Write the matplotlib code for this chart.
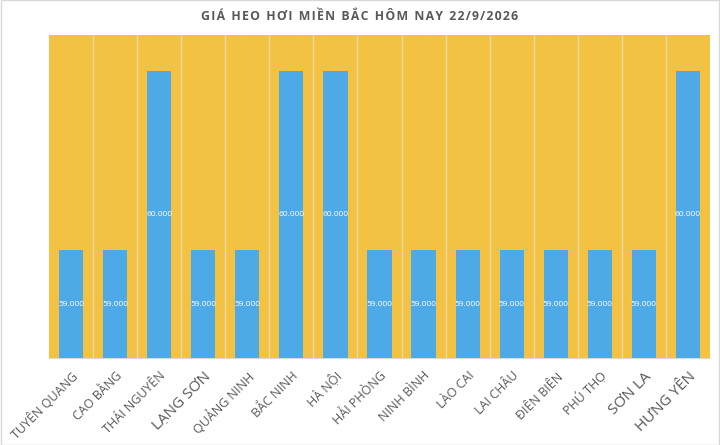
import matplotlib.pyplot as plt
from matplotlib.patches import Rectangle

provinces = ["TUYÊN QUANG", "CAO BẰNG", "THÁI NGUYÊN", "LẠNG SƠN", "QUẢNG NINH",
             "BẮC NINH", "HÀ NỘI", "HẢI PHÒNG", "NINH BÌNH", "LÀO CAI",
             "LAI CHÂU", "ĐIỆN BIÊN", "PHÚ THỌ", "SƠN LA", "HƯNG YÊN"]
prices = [59000, 59000, 60000, 59000, 59000,
          60000, 60000, 59000, 59000, 59000,
          59000, 59000, 59000, 59000, 60000]
price_labels = ["59.000", "59.000", "60.000", "59.000", "59.000",
                "60.000", "60.000", "59.000", "59.000", "59.000",
                "59.000", "59.000", "59.000", "59.000", "60.000"]
big_labels = ["LẠNG SƠN", "SƠN LA", "HƯNG YÊN"]
title = "GIÁ HEO HƠI MIỀN BẮC HÔM NAY 22/9/2026"

plt.rcParams['font.family'] = ['Open Sans', 'DejaVu Sans']

fig = plt.figure(figsize=(7.2, 4.45), dpi=100)
ax = fig.add_axes([49/720, 1 - 358/445, 661/720, 323/445])
ax.set_facecolor('#F4C243')

ymin, ymax = 58400, 60200
x = range(len(provinces))
bars = ax.bar(x, [p - ymin for p in prices], bottom=ymin, width=0.55,
              color='#4EAAE6', zorder=3)
for b, lab in zip(bars, price_labels):
    ax.text(b.get_x() + b.get_width() / 2, (ymin + b.get_y() + b.get_height()) / 2, lab,
            ha='center', va='center', color='white', fontsize=6, zorder=4)

for i in range(1, len(provinces)):
    ax.axvline(i - 0.5, color='#EAD9A6', lw=1, zorder=2)

ax.set_xlim(-0.5, len(provinces) - 0.5)
ax.set_ylim(ymin, ymax)
ax.set_yticks([])
ax.set_xticks(list(x))
ax.set_xticklabels(provinces, rotation=45, ha='right', rotation_mode='anchor', color='#595959')
for t in ax.get_xticklabels():
    t.set_fontsize(11 if t.get_text() in big_labels else 9)
ax.tick_params(axis='x', length=0, pad=8)
for s in ['top', 'left', 'right']:
    ax.spines[s].set_visible(False)
ax.spines['bottom'].set_color('#D9D9D9')

# spread the title letters a little
spaced = "\u200a".join(title).replace("\u200a \u200a", "  ")
fig.text(0.5, 1 - 16/445, spaced, ha='center', va='center',
         fontsize=8.8, fontweight='bold', color='#595959')

fig.patches.append(Rectangle((0.001, 0.001), 0.998, 0.998, transform=fig.transFigure,
                             fill=False, edgecolor='#D9D9D9', lw=1))

fig.savefig('out.png', dpi=100)
